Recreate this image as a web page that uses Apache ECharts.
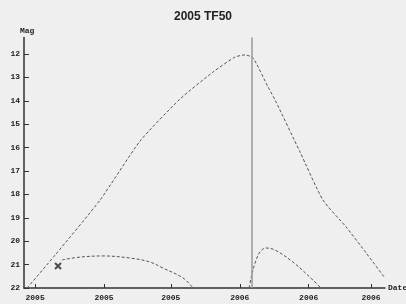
<!DOCTYPE html>
<html><head><meta charset="utf-8">
<script src="https://cdn.jsdelivr.net/npm/echarts@6/dist/echarts.min.js"></script>
<style>html,body{margin:0;padding:0;background:#efefef}#c{width:406px;height:304px}</style>
</head><body><div id="c"></div>
<script>
// x values are days after 2005 Oct 1
const xTickDays = [0, 31, 61, 92, 123, 151];
const xTickLabels = ['2005\nOct 1', '2005\nNov 1', '2005\nDec 1', '2006\nJan 1', '2006\nFeb 1', '2006\nMar 1'];
const yTicks = [12, 13, 14, 15, 16, 17, 18, 19, 20, 21, 22];

const curveA_days = [-3.6, 9.0, 29.2, 47.2, 65.2, 80, 89.9, 94.4, 98, 104.7, 107.9, 119.1, 129.4, 139.8, 148.8, 157.3];
const curveA_mag  = [22.0, 20.59, 18.24, 15.72, 13.92, 12.77, 12.13, 12.04, 12.17, 13.41, 13.97, 16.19, 18.24, 19.39, 20.5, 21.58];

const curveB_days = [12.1, 20.2, 30.6, 42.7, 51.7, 57.5, 66.5, 71];
const curveB_mag  = [20.8, 20.68, 20.63, 20.72, 20.89, 21.15, 21.57, 22.0];

const curveC_days = [96.2, 97.1, 98.9, 101.1, 103.8, 107.9, 116, 124.9, 128.5];
const curveC_mag  = [22.0, 21.57, 20.93, 20.46, 20.29, 20.38, 20.9, 21.66, 22.0];

const markerDay = [10.3];
const markerMag = [21.06];
const verticalLineDay = 97.5;

const zip = (a, b) => a.map((v, i) => [v, b[i]]);
const lbl = {fontFamily: 'Liberation Mono', fontWeight: 'bold', fontSize: 8, color: '#222'};
const dashed = {color: '#555', width: 1, type: [3, 2]};

const chart = echarts.init(document.getElementById('c'));
chart.setOption({
  backgroundColor: '#efefef',
  animation: false,
  title: [
    {text: '2005 TF50', left: 'center', top: 6,
     textStyle: {fontFamily: 'Liberation Sans', fontWeight: 'bold', fontSize: 12, color: '#222'}},
    {text: 'Mag', left: 15, top: 22,
     textStyle: {fontFamily: 'Liberation Mono', fontWeight: 'bold', fontSize: 8, color: '#222'}}
  ],
  grid: {left: 24, right: 21, top: 37.6, bottom: 16, containLabel: false, outerBoundsMode: 'none'},
  xAxis: {
    type: 'value', min: -5, max: 157.3,
    name: 'Date', nameLocation: 'end', nameGap: 3,
    nameTextStyle: Object.assign({}, lbl, {fontSize: 8}),
    axisLine: {show: true, lineStyle: {color: '#333', width: 1.5}},
    axisTick: {show: true, inside: true, length: 4, customValues: xTickDays, lineStyle: {color: '#333'}},
    axisLabel: Object.assign({}, lbl, {customValues: xTickDays, margin: 5, lineHeight: 10,
      formatter: v => xTickLabels[xTickDays.indexOf(Math.round(v))] || ''}),
    splitLine: {show: false}
  },
  yAxis: {
    type: 'value', min: 11.3, max: 22, inverse: true,
    axisLine: {show: true, onZero: false, lineStyle: {color: '#333', width: 1.5}},
    axisTick: {show: true, inside: true, length: 5, customValues: yTicks, lineStyle: {color: '#333'}},
    axisLabel: Object.assign({}, lbl, {customValues: yTicks, margin: 4}),
    splitLine: {show: false}
  },
  series: [
    {type: 'line', data: zip(curveA_days, curveA_mag), smooth: 0.2, symbol: 'none',
     lineStyle: dashed,
     markLine: {silent: true, symbol: 'none', label: {show: false},
       lineStyle: {color: '#999', width: 1.5, type: 'solid'},
       data: [[{coord: [verticalLineDay, 11.3]}, {coord: [verticalLineDay, 22]}]]}},
    {type: 'line', data: zip(curveB_days, curveB_mag), smooth: 0.35, symbol: 'none', lineStyle: dashed},
    {type: 'line', data: zip(curveC_days, curveC_mag), smooth: 0.35, symbol: 'none', lineStyle: dashed},
    {type: 'scatter', data: zip(markerDay, markerMag), symbol: 'path://M0,0L10,10M10,0L0,10', symbolSize: 6,
     itemStyle: {color: 'none', borderColor: '#222', borderWidth: 2}}
  ]
});
</script></body></html>
